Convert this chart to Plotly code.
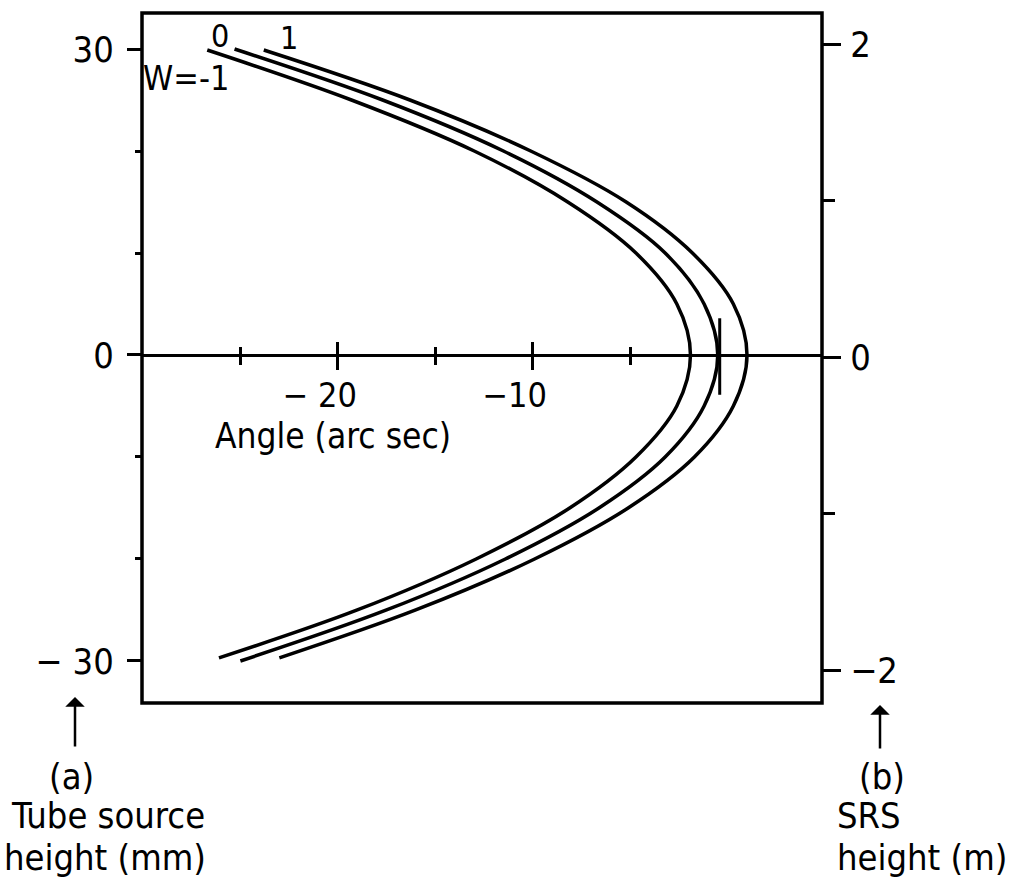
import plotly.graph_objects as go

# ---- data ----
# Tube source height (mm) vs angle (arc sec) for W = -1, 0, 1
wm1_height = [29.9, 25, 20, 15, 10, 5, 0, -5, -10, -15, -20, -25, -29.7]
wm1_angle = [-26.7, -19.3, -13.0, -8.2, -4.7, -2.6, -1.9, -2.6, -4.7, -8.1, -12.9, -19.0, -26.1]
w0_height = [30.0, 25, 20, 15, 10, 5, 0, -5, -10, -15, -20, -25, -30.0]
w0_angle = [-25.3, -17.7, -11.5, -6.7, -3.2, -1.2, -0.5, -1.2, -3.2, -6.6, -11.4, -17.5, -25.0]
w1_height = [29.9, 25, 20, 15, 10, 5, 0, -5, -10, -15, -20, -25, -29.7]
w1_angle = [-23.8, -16.3, -10.1, -5.2, -1.8, 0.3, 1.0, 0.3, -1.7, -5.1, -9.9, -16.0, -23.0]

marker_angle = -0.4
marker_heights = [3.6, -3.9]

x_major_ticks = [-20, -10]
x_major_text = ["\u2212 20", "\u221210"]
x_minor_ticks = [-25, -15, -5]
left_major_ticks = [30, 0, -30]
left_major_text = ["30", "0", "\u2212 30"]
left_minor_ticks = [-20, -10, 10, 20]
right_major_ticks = [2, 0, -2]
right_major_text = ["2", "0", "\u22122"]
right_minor_ticks = [-1, 1]

FONT = "Liberation Sans Narrow, DejaVu Sans Condensed, Liberation Sans, sans-serif"
BLACK = "#000000"

fig = go.Figure()
for xs, ys in [(wm1_angle, wm1_height), (w0_angle, w0_height), (w1_angle, w1_height)]:
    fig.add_trace(go.Scatter(x=xs, y=ys, mode="lines",
                             line=dict(color=BLACK, width=3.5, shape="spline", smoothing=1.0),
                             showlegend=False, hoverinfo="skip"))

# marker line (vertical bar near tip)
fig.add_trace(go.Scatter(x=[marker_angle, marker_angle], y=marker_heights, mode="lines",
                         line=dict(color=BLACK, width=3), showlegend=False, hoverinfo="skip"))

# dummy traces for overlay axes
fig.add_trace(go.Scatter(x=[None], y=[None], xaxis="x2", yaxis="y", showlegend=False))
fig.add_trace(go.Scatter(x=[None], y=[None], xaxis="x", yaxis="y2", showlegend=False))

XR = [-30.05, 4.85]
YR = [-34.12, 33.53]
Y2R = [-2.208, 2.201]
ZPOS = (0 - YR[0]) / (YR[1] - YR[0])

fig.update_layout(
    width=1013, height=885,
    margin=dict(l=142, r=191, t=13, b=182),
    paper_bgcolor="white", plot_bgcolor="white",
    font=dict(family=FONT, size=36, color=BLACK),
    xaxis=dict(range=XR, anchor="free", position=ZPOS, showgrid=False, zeroline=False,
               showline=True, linecolor=BLACK, linewidth=2.5,
               tickmode="array", tickvals=x_major_ticks, ticktext=x_major_text,
               ticks="outside", ticklen=13, tickwidth=2.5, tickcolor=BLACK,
               tickfont=dict(size=34),
               ticklabelshift=-18, ticklabelstandoff=-4,
               minor=dict(tickmode="array", tickvals=x_minor_ticks, ticks="outside",
                          ticklen=8, tickwidth=2.5, tickcolor=BLACK)),
    xaxis2=dict(range=XR, overlaying="x", anchor="free", position=ZPOS, showgrid=False,
                zeroline=False, showline=False, showticklabels=False,
                tickmode="array", tickvals=x_major_ticks,
                ticks="inside", ticklen=13, tickwidth=2.5, tickcolor=BLACK,
                minor=dict(tickmode="array", tickvals=x_minor_ticks, ticks="inside",
                           ticklen=8, tickwidth=2.5, tickcolor=BLACK)),
    yaxis=dict(range=YR, showgrid=False, zeroline=False, showline=False,
               tickmode="array", tickvals=left_major_ticks, ticktext=left_major_text,
               ticks="outside", ticklen=14, tickwidth=2.5, tickcolor=BLACK,
               ticklabelstandoff=6,
               minor=dict(tickmode="array", tickvals=left_minor_ticks, ticks="outside",
                          ticklen=6, tickwidth=2.5, tickcolor=BLACK)),
    yaxis2=dict(range=Y2R, overlaying="y", side="right", showgrid=False, zeroline=False,
                showline=False, tickmode="array", tickvals=right_major_ticks,
                ticktext=right_major_text, ticks="outside", ticklen=18, tickwidth=2.5,
                tickcolor=BLACK, ticklabelstandoff=2,
                minor=dict(tickmode="array", tickvals=right_minor_ticks, ticks="outside",
                           ticklen=12, tickwidth=2.5, tickcolor=BLACK)),
    shapes=[dict(type="rect", xref="paper", yref="paper", x0=0, x1=1, y0=0, y1=1,
                 line=dict(color=BLACK, width=3.5), fillcolor="rgba(0,0,0,0)", layer="above")],
)

ann = [
    dict(text="Angle (arc sec)", x=0.281, y=(703 - 436) / 690, size=35),
    dict(text="W=-1", x=0.0647, y=0.906, size=34),
    dict(text="0", x=0.1147, y=0.9667, size=32),
    dict(text="1", x=0.216, y=0.9638, size=32),
    dict(text="(a)", x=(71 - 142) / 680, y=(703 - 777) / 690, size=36),
    dict(text="Tube source", x=(108 - 142) / 680, y=(703 - 815) / 690, size=36),
    dict(text="height (mm)", x=(105 - 142) / 680, y=(703 - 857) / 690, size=36),
    dict(text="(b)", x=(882 - 142) / 680, y=(703 - 777) / 690, size=36),
    dict(text="SRS", x=(835 - 142) / 680, y=(703 - 815) / 690, size=36, xanchor="left"),
    dict(text="height (m)", x=(835 - 142) / 680, y=(703 - 857) / 690, size=36, xanchor="left"),
]
for a in ann:
    fig.add_annotation(text=a["text"], x=a["x"], y=a["y"], xref="paper", yref="paper",
                       showarrow=False, xanchor=a.get("xanchor", "center"), yanchor="middle",
                       font=dict(family=FONT, size=a["size"], color=BLACK))

# arrows
for xp, ytip, ytail in [(75, 697, 748), (880, 705, 750)]:
    fig.add_annotation(x=(xp - 142) / 680, y=(703 - ytip) / 690, xref="paper", yref="paper",
                       ax=0, ay=ytail - ytip, axref="pixel", ayref="pixel",
                       showarrow=True, arrowhead=1, arrowsize=1.3, arrowwidth=2.5,
                       arrowcolor=BLACK, text="")

fig.write_html("out.html")
